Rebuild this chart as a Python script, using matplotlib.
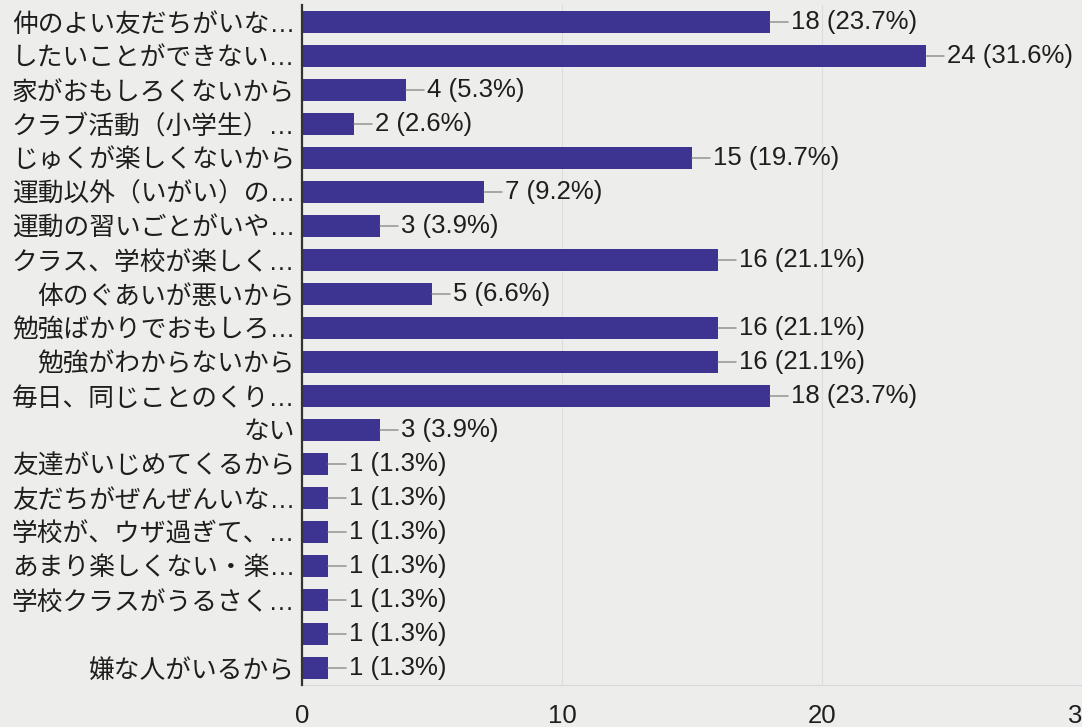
import matplotlib
matplotlib.use("Agg")
import matplotlib.pyplot as plt

plt.rcParams['font.family'] = ['Liberation Sans', 'Noto Sans CJK JP', 'DejaVu Sans']

categories = [
    "仲のよい友だちがいな…",
    "したいことができない…",
    "家がおもしろくないから",
    "クラブ活動（小学生）…",
    "じゅくが楽しくないから",
    "運動以外（いがい）の…",
    "運動の習いごとがいや…",
    "クラス、学校が楽しく…",
    "体のぐあいが悪いから",
    "勉強ばかりでおもしろ…",
    "勉強がわからないから",
    "毎日、同じことのくり…",
    "ない",
    "友達がいじめてくるから",
    "友だちがぜんぜんいな…",
    "学校が、ウザ過ぎて、…",
    "あまり楽しくない・楽…",
    "学校クラスがうるさく…",
    "",
    "嫌な人がいるから",
]
counts = [18, 24, 4, 2, 15, 7, 3, 16, 5, 16, 16, 18, 3, 1, 1, 1, 1, 1, 1, 1]
percents = ["23.7", "31.6", "5.3", "2.6", "19.7", "9.2", "3.9", "21.1", "6.6",
            "21.1", "21.1", "23.7", "3.9", "1.3", "1.3", "1.3", "1.3", "1.3",
            "1.3", "1.3"]
x_ticks = [0, 10, 20, 30]

bar_color = "#3d3391"
text_color = "#1e1e1e"
bg = "#ededeb"
fs = 18.5

fig = plt.figure(figsize=(10.82, 7.27), dpi=100, facecolor=bg)
ax = fig.add_axes([302 / 1082, 42 / 727, 780 / 1082, 680 / 727])
ax.set_facecolor(bg)

ypos = list(range(len(categories)))
ax.barh(ypos, counts, height=0.62, color=bar_color, zorder=3)

for y, c, p in zip(ypos, counts, percents):
    ax.annotate(f"{c} ({p}%)", xy=(c, y), xytext=(15, 0),
                textcoords="offset points", va="center", ha="left",
                fontsize=fs, color=text_color,
                arrowprops=dict(arrowstyle="-", color="#8a8a8a", lw=1.0,
                                shrinkA=0, shrinkB=0))

ax.set_ylim(len(categories) - 0.5, -0.5)
ax.set_xlim(0, 30)
ax.set_yticks(ypos)
ax.set_yticklabels(categories, fontsize=fs, color=text_color)
ax.set_xticks(x_ticks)
ax.set_xticklabels([str(t) for t in x_ticks], fontsize=fs, color=text_color)
ax.tick_params(axis="both", length=0)
ax.tick_params(axis="y", pad=5)
ax.tick_params(axis="x", pad=14)

ax.grid(axis="x", color="#dcdcdc", lw=0.8, zorder=0)
for side in ("top", "right"):
    ax.spines[side].set_visible(False)
ax.spines["left"].set_color("#333333")
ax.spines["left"].set_linewidth(1.6)
ax.spines["left"].set_zorder(4)
ax.spines["bottom"].set_color("#d8d8d8")
ax.spines["bottom"].set_linewidth(0.8)

fig.savefig("out.png", dpi=100, facecolor=bg)
